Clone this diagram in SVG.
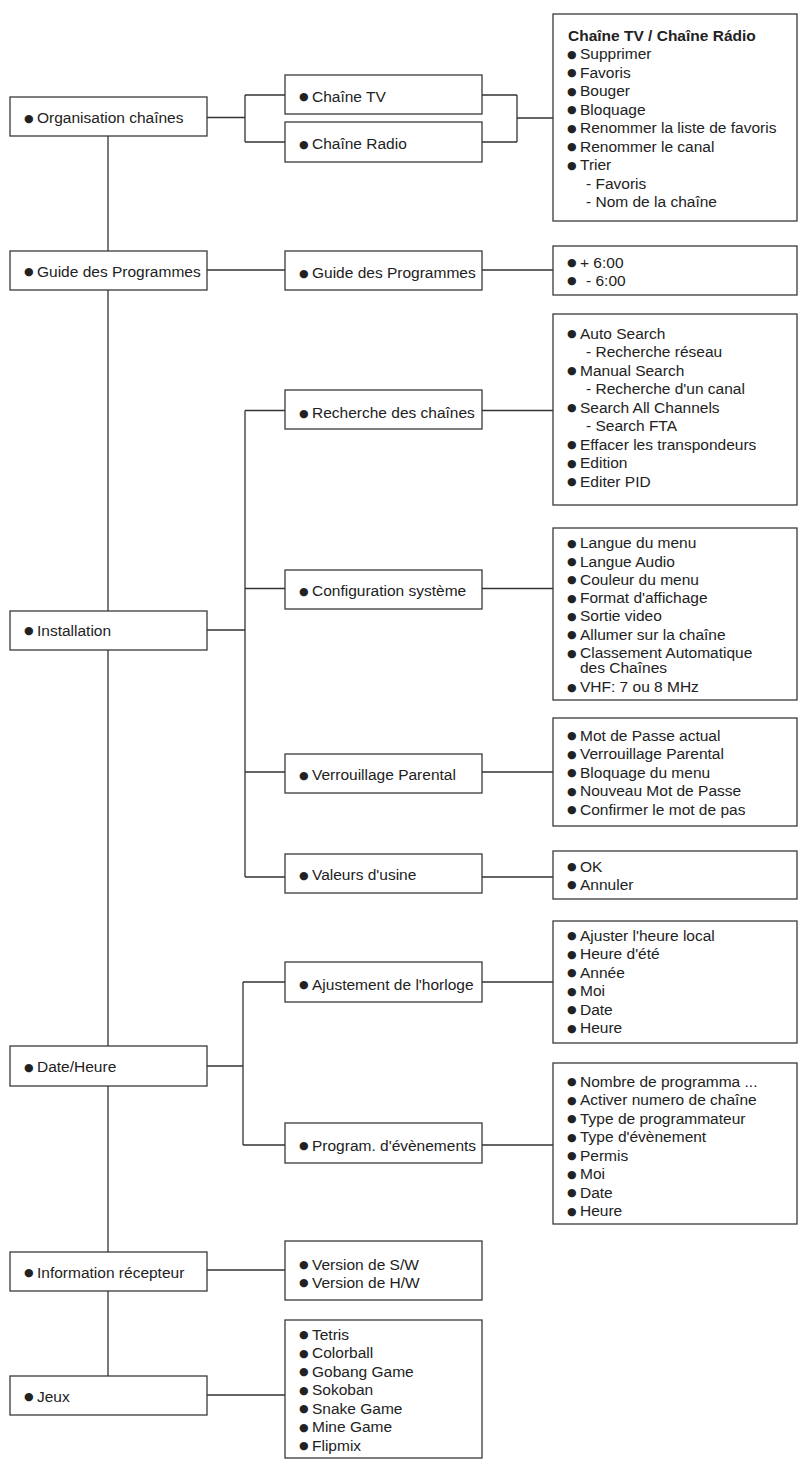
<svg xmlns="http://www.w3.org/2000/svg" width="801" height="1460" viewBox="0 0 801 1460">
<style>
.box{fill:#fff;stroke:#3a3a3a;stroke-width:1.3}
.t{font-family:"Liberation Sans",Arial,sans-serif;font-size:15.5px;fill:#222}
.b{font-family:"DejaVu Sans",sans-serif;font-size:11px}
.h{font-weight:bold}
.c{stroke:#333;stroke-width:1.3;fill:none}
</style>
<rect width="801" height="1460" fill="#fff"/>
<g id="connectors" class="c">
<path d="M108 136V251M108 290V611M108 650V1046M108 1086V1252M108 1291V1376"/>
<path d="M207 117.5H245M245 95V142M245 95H285M245 142H285M482 95H517M482 142H517M517 95V142M517 118H553"/>
<path d="M207 270H285M482 270H553"/>
<path d="M207 630H245M245 410.5V877M245 410.5H285M245 588.5H285M245 772H285M245 877H285"/>
<path d="M482 410.5H553M482 588.5H553M482 772H553M482 877H553"/>
<path d="M207 1066H243M243 982V1145M243 982H285M243 1145H285M482 982H553M482 1145H553"/>
<path d="M207 1270H285M207 1395H285"/>
</g>
<g id="n-org"><rect class="box" x="10" y="97" width="197" height="39"/><text class="t" y="123"><tspan class="b" x="24" dy="-1.5">●</tspan><tspan x="37" dy="1.5">Organisation chaînes</tspan></text></g>
<g id="n-tv"><rect class="box" x="285" y="75" width="197" height="39"/><text class="t" y="101.5"><tspan class="b" x="299" dy="-1.5">●</tspan><tspan x="312" dy="1.5">Chaîne TV</tspan></text></g>
<g id="n-radio"><rect class="box" x="285" y="122" width="197" height="40"/><text class="t" y="149"><tspan class="b" x="299" dy="-1.5">●</tspan><tspan x="312" dy="1.5">Chaîne Radio</tspan></text></g>
<g id="n-chlist"><rect class="box" x="553" y="14" width="244" height="207"/>
<text class="t h" x="568" y="40.5">Chaîne TV / Chaîne Rádio</text>
<text class="t" y="59"><tspan class="b" x="567" dy="-1.5">●</tspan><tspan x="580" dy="1.5">Supprimer</tspan></text>
<text class="t" y="77.5"><tspan class="b" x="567" dy="-1.5">●</tspan><tspan x="580" dy="1.5">Favoris</tspan></text>
<text class="t" y="96"><tspan class="b" x="567" dy="-1.5">●</tspan><tspan x="580" dy="1.5">Bouger</tspan></text>
<text class="t" y="114.5"><tspan class="b" x="567" dy="-1.5">●</tspan><tspan x="580" dy="1.5">Bloquage</tspan></text>
<text class="t" y="133"><tspan class="b" x="567" dy="-1.5">●</tspan><tspan x="580" dy="1.5">Renommer la liste de favoris</tspan></text>
<text class="t" y="151.5"><tspan class="b" x="567" dy="-1.5">●</tspan><tspan x="580" dy="1.5">Renommer le canal</tspan></text>
<text class="t" y="170"><tspan class="b" x="567" dy="-1.5">●</tspan><tspan x="580" dy="1.5">Trier</tspan></text>
<text class="t" x="586" y="188.5">- Favoris</text>
<text class="t" x="586" y="207">- Nom de la chaîne</text>
</g>
<g id="n-guide"><rect class="box" x="10" y="251" width="197" height="39"/><text class="t" y="276.5"><tspan class="b" x="24" dy="-1.5">●</tspan><tspan x="37" dy="1.5">Guide des Programmes</tspan></text></g>
<g id="n-guide2"><rect class="box" x="285" y="251" width="197" height="39"/><text class="t" y="278"><tspan class="b" x="299" dy="-1.5">●</tspan><tspan x="312" dy="1.5">Guide des Programmes</tspan></text></g>
<g id="n-guidelist"><rect class="box" x="553" y="246" width="244" height="49"/>
<text class="t" y="267.5"><tspan class="b" x="567" dy="-1.5">●</tspan><tspan x="580" dy="1.5">+ 6:00</tspan></text>
<text class="t" y="285.5"><tspan class="b" x="567" dy="-1.5">●</tspan><tspan x="586" dy="1.5">- 6:00</tspan></text>
</g>
<g id="n-install"><rect class="box" x="10" y="611" width="197" height="39"/><text class="t" y="635.5"><tspan class="b" x="24" dy="-1.5">●</tspan><tspan x="37" dy="1.5">Installation</tspan></text></g>
<g id="n-search"><rect class="box" x="285" y="390" width="197" height="39"/><text class="t" y="418"><tspan class="b" x="299" dy="-1.5">●</tspan><tspan x="312" dy="1.5">Recherche des chaînes</tspan></text></g>
<g id="n-searchlist"><rect class="box" x="553" y="314" width="244" height="191"/>
<text class="t" y="338.5"><tspan class="b" x="567" dy="-1.5">●</tspan><tspan x="580" dy="1.5">Auto Search</tspan></text>
<text class="t" x="586" y="357">- Recherche réseau</text>
<text class="t" y="375.5"><tspan class="b" x="567" dy="-1.5">●</tspan><tspan x="580" dy="1.5">Manual Search</tspan></text>
<text class="t" x="586" y="394">- Recherche d'un canal</text>
<text class="t" y="412.5"><tspan class="b" x="567" dy="-1.5">●</tspan><tspan x="580" dy="1.5">Search All Channels</tspan></text>
<text class="t" x="586" y="431">- Search FTA</text>
<text class="t" y="449.5"><tspan class="b" x="567" dy="-1.5">●</tspan><tspan x="580" dy="1.5">Effacer les transpondeurs</tspan></text>
<text class="t" y="468"><tspan class="b" x="567" dy="-1.5">●</tspan><tspan x="580" dy="1.5">Edition</tspan></text>
<text class="t" y="486.5"><tspan class="b" x="567" dy="-1.5">●</tspan><tspan x="580" dy="1.5">Editer PID</tspan></text>
</g>
<g id="n-config"><rect class="box" x="285" y="570" width="197" height="39"/><text class="t" y="596"><tspan class="b" x="299" dy="-1.5">●</tspan><tspan x="312" dy="1.5">Configuration système</tspan></text></g>
<g id="n-configlist"><rect class="box" x="553" y="528" width="244" height="172"/>
<text class="t" y="548"><tspan class="b" x="567" dy="-1.5">●</tspan><tspan x="580" dy="1.5">Langue du menu</tspan></text>
<text class="t" y="566.5"><tspan class="b" x="567" dy="-1.5">●</tspan><tspan x="580" dy="1.5">Langue Audio</tspan></text>
<text class="t" y="584.5"><tspan class="b" x="567" dy="-1.5">●</tspan><tspan x="580" dy="1.5">Couleur du menu</tspan></text>
<text class="t" y="603"><tspan class="b" x="567" dy="-1.5">●</tspan><tspan x="580" dy="1.5">Format d'affichage</tspan></text>
<text class="t" y="621"><tspan class="b" x="567" dy="-1.5">●</tspan><tspan x="580" dy="1.5">Sortie video</tspan></text>
<text class="t" y="639.5"><tspan class="b" x="567" dy="-1.5">●</tspan><tspan x="580" dy="1.5">Allumer sur la chaîne</tspan></text>
<text class="t" y="658"><tspan class="b" x="567" dy="-1.5">●</tspan><tspan x="580" dy="1.5">Classement Automatique</tspan></text>
<text class="t" x="580" y="673">des Chaînes</text>
<text class="t" y="692"><tspan class="b" x="567" dy="-1.5">●</tspan><tspan x="580" dy="1.5">VHF: 7 ou 8 MHz</tspan></text>
</g>
<g id="n-parental"><rect class="box" x="285" y="754" width="197" height="39"/><text class="t" y="780"><tspan class="b" x="299" dy="-1.5">●</tspan><tspan x="312" dy="1.5">Verrouillage Parental</tspan></text></g>
<g id="n-parentallist"><rect class="box" x="553" y="718" width="244" height="108"/>
<text class="t" y="740.5"><tspan class="b" x="567" dy="-1.5">●</tspan><tspan x="580" dy="1.5">Mot de Passe actual</tspan></text>
<text class="t" y="759"><tspan class="b" x="567" dy="-1.5">●</tspan><tspan x="580" dy="1.5">Verrouillage Parental</tspan></text>
<text class="t" y="777.5"><tspan class="b" x="567" dy="-1.5">●</tspan><tspan x="580" dy="1.5">Bloquage du menu</tspan></text>
<text class="t" y="796"><tspan class="b" x="567" dy="-1.5">●</tspan><tspan x="580" dy="1.5">Nouveau Mot de Passe</tspan></text>
<text class="t" y="814.5"><tspan class="b" x="567" dy="-1.5">●</tspan><tspan x="580" dy="1.5">Confirmer le mot de pas</tspan></text>
</g>
<g id="n-factory"><rect class="box" x="285" y="854" width="197" height="39"/><text class="t" y="880"><tspan class="b" x="299" dy="-1.5">●</tspan><tspan x="312" dy="1.5">Valeurs d'usine</tspan></text></g>
<g id="n-factorylist"><rect class="box" x="553" y="851" width="244" height="48"/>
<text class="t" y="871.5"><tspan class="b" x="567" dy="-1.5">●</tspan><tspan x="580" dy="1.5">OK</tspan></text>
<text class="t" y="889.5"><tspan class="b" x="567" dy="-1.5">●</tspan><tspan x="580" dy="1.5">Annuler</tspan></text>
</g>
<g id="n-date"><rect class="box" x="10" y="1046" width="197" height="40"/><text class="t" y="1072"><tspan class="b" x="24" dy="-1.5">●</tspan><tspan x="37" dy="1.5">Date/Heure</tspan></text></g>
<g id="n-clock"><rect class="box" x="285" y="962" width="197" height="40"/><text class="t" y="989.5"><tspan class="b" x="299" dy="-1.5">●</tspan><tspan x="312" dy="1.5">Ajustement de l'horloge</tspan></text></g>
<g id="n-clocklist"><rect class="box" x="553" y="921" width="244" height="122"/>
<text class="t" y="940.5"><tspan class="b" x="567" dy="-1.5">●</tspan><tspan x="580" dy="1.5">Ajuster l'heure local</tspan></text>
<text class="t" y="959"><tspan class="b" x="567" dy="-1.5">●</tspan><tspan x="580" dy="1.5">Heure d'été</tspan></text>
<text class="t" y="977.5"><tspan class="b" x="567" dy="-1.5">●</tspan><tspan x="580" dy="1.5">Année</tspan></text>
<text class="t" y="996"><tspan class="b" x="567" dy="-1.5">●</tspan><tspan x="580" dy="1.5">Moi</tspan></text>
<text class="t" y="1014.5"><tspan class="b" x="567" dy="-1.5">●</tspan><tspan x="580" dy="1.5">Date</tspan></text>
<text class="t" y="1033"><tspan class="b" x="567" dy="-1.5">●</tspan><tspan x="580" dy="1.5">Heure</tspan></text>
</g>
<g id="n-events"><rect class="box" x="285" y="1123" width="197" height="40"/><text class="t" y="1150.5"><tspan class="b" x="299" dy="-1.5">●</tspan><tspan x="312" dy="1.5">Program. d'évènements</tspan></text></g>
<g id="n-eventslist"><rect class="box" x="553" y="1063" width="244" height="161"/>
<text class="t" y="1086.5"><tspan class="b" x="567" dy="-1.5">●</tspan><tspan x="580" dy="1.5">Nombre de programma ...</tspan></text>
<text class="t" y="1105"><tspan class="b" x="567" dy="-1.5">●</tspan><tspan x="580" dy="1.5">Activer numero de chaîne</tspan></text>
<text class="t" y="1123.5"><tspan class="b" x="567" dy="-1.5">●</tspan><tspan x="580" dy="1.5">Type de programmateur</tspan></text>
<text class="t" y="1142"><tspan class="b" x="567" dy="-1.5">●</tspan><tspan x="580" dy="1.5">Type d'évènement</tspan></text>
<text class="t" y="1160.5"><tspan class="b" x="567" dy="-1.5">●</tspan><tspan x="580" dy="1.5">Permis</tspan></text>
<text class="t" y="1179"><tspan class="b" x="567" dy="-1.5">●</tspan><tspan x="580" dy="1.5">Moi</tspan></text>
<text class="t" y="1197.5"><tspan class="b" x="567" dy="-1.5">●</tspan><tspan x="580" dy="1.5">Date</tspan></text>
<text class="t" y="1216"><tspan class="b" x="567" dy="-1.5">●</tspan><tspan x="580" dy="1.5">Heure</tspan></text>
</g>
<g id="n-info"><rect class="box" x="10" y="1252" width="197" height="39"/><text class="t" y="1277.5"><tspan class="b" x="24" dy="-1.5">●</tspan><tspan x="37" dy="1.5">Information récepteur</tspan></text></g>
<g id="n-infolist"><rect class="box" x="285" y="1241" width="197" height="59"/>
<text class="t" y="1269.5"><tspan class="b" x="299" dy="-1.5">●</tspan><tspan x="312" dy="1.5">Version de S/W</tspan></text>
<text class="t" y="1287.5"><tspan class="b" x="299" dy="-1.5">●</tspan><tspan x="312" dy="1.5">Version de H/W</tspan></text>
</g>
<g id="n-games"><rect class="box" x="10" y="1376" width="197" height="39"/><text class="t" y="1401.5"><tspan class="b" x="24" dy="-1.5">●</tspan><tspan x="37" dy="1.5">Jeux</tspan></text></g>
<g id="n-gameslist"><rect class="box" x="285" y="1320" width="197" height="138"/>
<text class="t" y="1339.5"><tspan class="b" x="299" dy="-1.5">●</tspan><tspan x="312" dy="1.5">Tetris</tspan></text>
<text class="t" y="1358"><tspan class="b" x="299" dy="-1.5">●</tspan><tspan x="312" dy="1.5">Colorball</tspan></text>
<text class="t" y="1376.5"><tspan class="b" x="299" dy="-1.5">●</tspan><tspan x="312" dy="1.5">Gobang Game</tspan></text>
<text class="t" y="1395"><tspan class="b" x="299" dy="-1.5">●</tspan><tspan x="312" dy="1.5">Sokoban</tspan></text>
<text class="t" y="1413.5"><tspan class="b" x="299" dy="-1.5">●</tspan><tspan x="312" dy="1.5">Snake Game</tspan></text>
<text class="t" y="1432"><tspan class="b" x="299" dy="-1.5">●</tspan><tspan x="312" dy="1.5">Mine Game</tspan></text>
<text class="t" y="1450.5"><tspan class="b" x="299" dy="-1.5">●</tspan><tspan x="312" dy="1.5">Flipmix</tspan></text>
</g>
</svg>
